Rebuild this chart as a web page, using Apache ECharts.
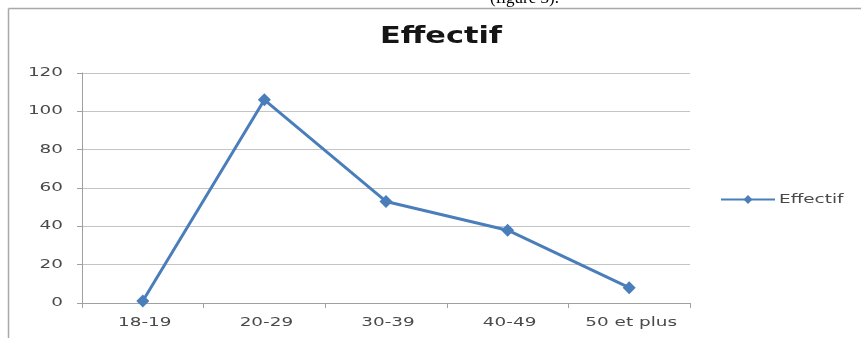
<!DOCTYPE html>
<html>
<head>
<meta charset="utf-8">
<script src="https://cdn.jsdelivr.net/npm/echarts@6/dist/echarts.min.js"></script>
<style>html,body{margin:0;padding:0;background:#fff;}#c{width:861px;height:338px;}</style>
</head>
<body>
<div id="c"></div>
<script>
var categories = ['18-19', '20-29', '30-39', '40-49', '50 et plus'];
var effectif = [1, 106, 53, 38, 8];
var yTicks = [0, 20, 40, 60, 80, 100, 120];
var seriesName = 'Effectif';
var titleText = 'Effectif';
var captionText = '(figure 3).';

var LABEL_FONT = '11.5px "DejaVu Sans"';
var LABEL_COLOR = '#4a4a4a';
var STRETCH = 1.6;

var chart = echarts.init(document.getElementById('c'), null, {renderer: 'canvas'});
chart.setOption({
  backgroundColor: '#fff',
  animation: false,
  legend: {
    data: [seriesName], left: 720, top: 194, itemWidth: 54, itemHeight: 11,
    itemGap: 0, padding: 0,
    formatter: function () { return ''; },
    textStyle: {fontSize: 11, padding: 0}
  },
  grid: {left: 82, right: 171, top: 73, bottom: 35},
  xAxis: {
    type: 'category', data: categories, boundaryGap: true,
    axisLine: {lineStyle: {color: '#a0a0a0', width: 1}},
    axisTick: {show: true, length: 5, lineStyle: {color: '#a0a0a0'}},
    axisLabel: {show: false}
  },
  yAxis: {
    type: 'value', min: yTicks[0], max: yTicks[yTicks.length - 1], interval: 20,
    axisLine: {show: true, lineStyle: {color: '#a0a0a0'}},
    axisTick: {show: true, length: 5, lineStyle: {color: '#a0a0a0'}},
    splitLine: {lineStyle: {color: '#c4c4c4', width: 1}},
    axisLabel: {show: false}
  },
  series: [{
    name: seriesName, type: 'line', data: effectif,
    symbol: 'diamond', symbolSize: 13,
    lineStyle: {color: '#4a7ebb', width: 3},
    itemStyle: {color: '#4a7ebb'}
  }]
});

var g = [];
// frame
g.push({type: 'line', shape: {x1: 8.5, y1: 8.5, x2: 861, y2: 8.5}, style: {stroke: '#a8a8a8', lineWidth: 1.5}, z: 100});
g.push({type: 'line', shape: {x1: 8.5, y1: 8.5, x2: 8.5, y2: 338}, style: {stroke: '#a8a8a8', lineWidth: 1.5}, z: 100});
// caption (cut off at top)
g.push({type: 'text', x: 490, y: -10, style: {text: captionText, font: '17px "Liberation Serif"', fill: '#000', align: 'left', verticalAlign: 'top'}});
// title
g.push({type: 'text', x: 441, y: 37, scaleX: 1.32, style: {text: titleText, font: 'bold 23px "DejaVu Sans"', fill: '#151515', align: 'center', verticalAlign: 'middle'}});
// y labels
yTicks.forEach(function (v) {
  var p = chart.convertToPixel({gridIndex: 0}, [categories[0], v]);
  g.push({type: 'text', x: 63, y: p[1], scaleX: STRETCH, style: {text: String(v), font: LABEL_FONT, fill: LABEL_COLOR, align: 'right', verticalAlign: 'middle'}});
});
// x labels
categories.forEach(function (c) {
  var p = chart.convertToPixel({gridIndex: 0}, [c, 0]);
  g.push({type: 'text', x: p[0] + 2, y: p[1] + 20, scaleX: STRETCH, style: {text: c, font: LABEL_FONT, fill: LABEL_COLOR, align: 'center', verticalAlign: 'middle'}});
});
// legend text
g.push({type: 'text', x: 779, y: 200, scaleX: STRETCH, style: {text: seriesName, font: LABEL_FONT, fill: LABEL_COLOR, align: 'left', verticalAlign: 'middle'}});
chart.setOption({graphic: g});
</script>
</body>
</html>
